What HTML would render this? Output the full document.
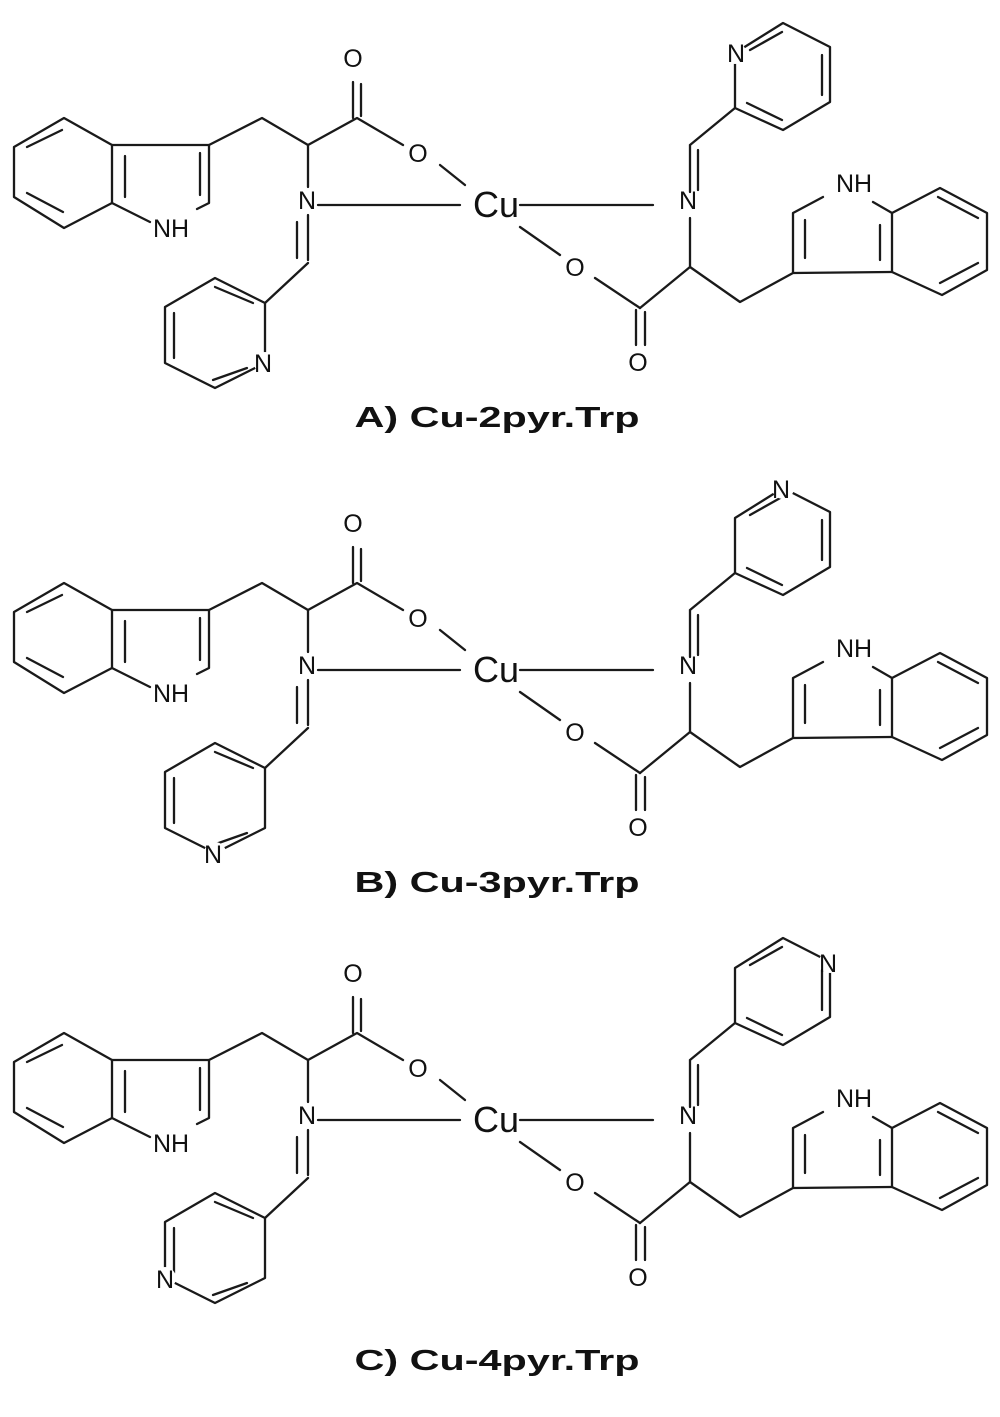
<!DOCTYPE html>
<html><head><meta charset="utf-8"><style>
html,body{margin:0;padding:0;background:#fff;}
svg{display:block;}
text{font-family:"Liberation Sans",sans-serif;fill:#111;}
</style></head><body>
<svg width="1000" height="1417" viewBox="0 0 1000 1417" xmlns="http://www.w3.org/2000/svg">
<defs>
<g id="mol" stroke="#1a1a1a" stroke-width="2.3" fill="none" stroke-linecap="round" stroke-linejoin="round">
  <path d="M64,118 L14,147 L14,197 L64,228 L112,203 L112,145 Z"/>
  <path d="M112,145 L209,145 L209,203 L197,209 M112,203 L150,222"/>
  <path d="M27,147 L62,130 M27,193 L63,212 M125,156 L125,197 M200,153 L200,195"/>
  <path d="M209,145 L262,118 L308,145 L357,118 L403,145"/>
  <path d="M353,118 L353,82 M361,116 L361,84"/>
  <path d="M440,165 L465,185"/>
  <path d="M308,145 L308,187 M318,205 L460,205 M308,215 L308,260 M297,222 L297,258 M308,263 L265,303"/>
  <path d="M265,303 L215,278 L165,307 L165,363 L215,388 L265,363 Z"/>
  <path d="M215,287 L253,303 M174,313 L174,358 M213,380 L247,368"/>
  <path d="M520,205 L653,205 M520,227 L560,255 M595,278 L640,308"/>
  <path d="M636,310 L636,345 M645,312 L645,345"/>
  <path d="M640,308 L690,267 L690,218 M690,192 L690,145 M698,150 L698,190 M690,145 L735,108"/>
  <path d="M735,108 L735,53 L783,23 L830,47 L830,102 L783,130 Z"/>
  <path d="M750,50 L782,32 M822,55 L822,95 M747,103 L782,120"/>
  <path d="M690,267 L740,302 L793,273 L793,213 L823,197 M873,202 L892,213 L892,272 L793,273"/>
  <path d="M892,213 L940,188 L987,213 L987,270 L942,295 L892,272"/>
  <path d="M805,220 L805,258 M880,225 L880,260 M938,197 L978,218 M978,263 L940,283"/>
</g>
<g id="labels" font-size="25" text-anchor="middle">
  <text x="171" y="237">NH</text>
  <text x="353" y="67">O</text>
  <text x="418" y="162">O</text>
  <text x="307" y="209">N</text>
  <text x="496" y="217" font-size="36">Cu</text>
  <text x="688" y="209">N</text>
  <text x="575" y="276">O</text>
  <text x="638" y="371">O</text>
  <text x="854" y="192">NH</text>
</g>
</defs>

<use href="#mol"/>
<use href="#labels"/>
<circle cx="265" cy="363" r="11" fill="#fff"/><text x="263" y="372" font-size="25" text-anchor="middle">N</text>
<circle cx="735" cy="53" r="11" fill="#fff"/><text x="736" y="62" font-size="25" text-anchor="middle">N</text>
<text x="497" y="427" font-size="29" font-weight="bold" text-anchor="middle" textLength="285" lengthAdjust="spacingAndGlyphs">A) Cu-2pyr.Trp</text>

<g transform="translate(0,465)">
<use href="#mol"/>
<use href="#labels"/>
<circle cx="215" cy="388" r="11" fill="#fff"/><text x="213" y="398" font-size="25" text-anchor="middle">N</text>
<circle cx="783" cy="23" r="11" fill="#fff"/><text x="781" y="33" font-size="25" text-anchor="middle">N</text>
<text x="497" y="427" font-size="29" font-weight="bold" text-anchor="middle" textLength="285" lengthAdjust="spacingAndGlyphs">B) Cu-3pyr.Trp</text>
</g>

<g transform="translate(0,915)">
<use href="#mol"/>
<use href="#labels"/>
<circle cx="165" cy="363" r="11" fill="#fff"/><text x="165" y="373" font-size="25" text-anchor="middle">N</text>
<circle cx="830" cy="47" r="11" fill="#fff"/><text x="828" y="57" font-size="25" text-anchor="middle">N</text>
<text x="497" y="455" font-size="29" font-weight="bold" text-anchor="middle" textLength="285" lengthAdjust="spacingAndGlyphs">C) Cu-4pyr.Trp</text>
</g>
</svg>
</body></html>
